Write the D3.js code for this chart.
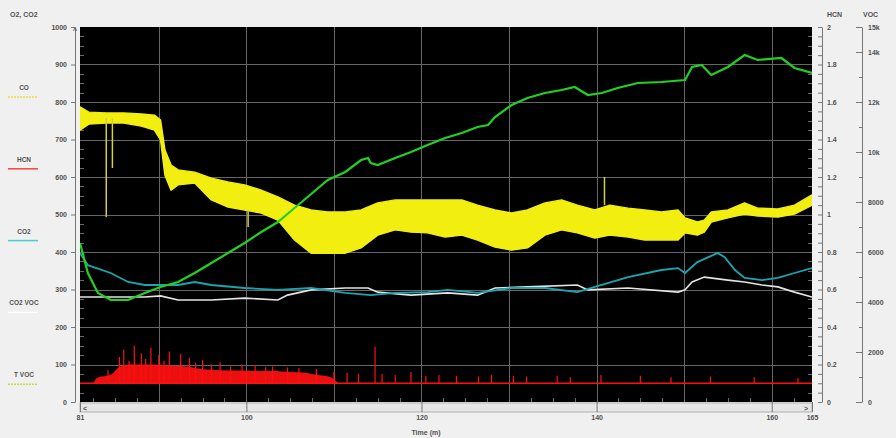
<!DOCTYPE html>
<html>
<head>
<meta charset="utf-8">
<script src="https://cdn.jsdelivr.net/npm/d3@7"></script>
<style>
html, body { margin: 0; padding: 0; background: #f0f0f0; }
svg { display: block; font-family: "Liberation Sans", Arial, sans-serif; }
</style>
</head>
<body>
<svg id="chart" width="896" height="438"></svg>
<script>
// tick labels
const timeTicks = [81, 100, 120, 140, 160, 164.6];
const leftTicks = [0, 100, 200, 300, 400, 500, 600, 700, 800, 900, 1000];
const hcnTicks = [0, 0.2, 0.4, 0.6, 0.8, 1, 1.2, 1.4, 1.6, 1.8, 2];
const vocTicks = [0, 2000, 4000, 6000, 8000, 10000, 12000, 14000, 15000];

// T VOC (green, right VOC axis)
const tvocTime = [81, 81.9, 83.05, 84.5, 86.5, 88.4, 90.2, 92.2, 94.1, 96.0, 97.9, 99.8, 101.7, 103.6, 105.5, 107.4, 109.3, 111.3, 113.1, 113.9, 114.2, 115.0, 117.0, 118.8, 120.7, 122.7, 124.6, 126.4, 127.6, 128.4, 130.3, 132.1, 134.1, 136.0, 137.5, 139.0, 140.6, 142.4, 144.7, 147.4, 150.1, 150.9, 152.0, 153.1, 155.0, 156.9, 158.4, 161.1, 162.6, 164.6];
const tvocValues = [6360, 5160, 4360, 4080, 4080, 4360, 4600, 4800, 5160, 5560, 5960, 6360, 6800, 7200, 7760, 8320, 8880, 9200, 9680, 9760, 9560, 9480, 9760, 10000, 10280, 10560, 10760, 11000, 11080, 11400, 11880, 12160, 12360, 12480, 12600, 12280, 12360, 12560, 12760, 12800, 12880, 13400, 13480, 13080, 13400, 13880, 13680, 13760, 13360, 13160];

// CO (yellow, left axis) - noisy trace kept as low / high envelope
const coTime = [81, 82, 84, 86, 88, 89.5, 90.2, 90.7, 91.4, 92.2, 94.1, 96.0, 97.9, 99.8, 101.7, 103.6, 105.5, 107.4, 109.3, 111.3, 113.1, 115.0, 117.0, 118.8, 120.7, 122.7, 124.6, 126.4, 128.4, 130.3, 132.1, 134.1, 136.0, 137.8, 139.8, 141.5, 143.6, 145.5, 147.4, 149.3, 150.1, 151.5, 152.3, 153.1, 155.0, 156.9, 158.4, 160.7, 162.6, 164.6];
const coHigh = [787, 773, 771, 771, 768, 765, 752, 672, 632, 619, 613, 597, 587, 579, 565, 547, 525, 512, 507, 507, 512, 531, 539, 539, 539, 539, 539, 525, 512, 504, 512, 531, 539, 525, 512, 525, 517, 512, 507, 512, 491, 480, 485, 507, 512, 531, 517, 515, 525, 552];
const coLow = [725, 741, 744, 744, 736, 725, 699, 605, 565, 579, 584, 539, 520, 512, 504, 485, 432, 397, 397, 397, 411, 445, 459, 453, 451, 440, 445, 432, 413, 405, 411, 445, 459, 451, 437, 445, 440, 432, 432, 432, 451, 445, 453, 480, 491, 501, 496, 493, 501, 525];
const coSpikeTime = [84.0, 84.7, 100.2, 140.9];
const coSpikeFrom = [757, 757, 512, 525];
const coSpikeTo = [493, 624, 467, 600];

// CO2 (cyan, left axis)
const co2Time = [81, 81.9, 84.5, 86.5, 88.4, 92.2, 94.1, 96.0, 99.8, 103.6, 107.4, 111.3, 114.2, 117.0, 120.7, 123.0, 126.4, 130.3, 134.1, 137.8, 139.8, 143.6, 147.4, 149.3, 150.1, 151.5, 153.8, 154.6, 155.8, 156.9, 158.9, 160.7, 162.6, 164.6];
const co2Values = [397, 365, 344, 320, 312, 312, 320, 312, 304, 299, 304, 291, 285, 291, 293, 299, 291, 304, 304, 293, 307, 333, 352, 357, 344, 373, 397, 387, 352, 331, 325, 331, 344, 357];

// CO2 VOC (white, left axis)
const co2vocTime = [81, 84.5, 88.4, 90.2, 92.2, 96.0, 99.8, 103.6, 104.7, 107.4, 111.3, 113.9, 115.0, 118.8, 123.0, 126.4, 128.4, 132.1, 137.8, 139.0, 143.6, 149.3, 150.1, 150.9, 152.3, 155.0, 156.9, 158.9, 160.7, 162.6, 164.6];
const co2vocValues = [280, 280, 280, 283, 272, 272, 277, 272, 285, 299, 304, 304, 293, 285, 291, 285, 304, 307, 312, 299, 304, 293, 299, 320, 333, 325, 320, 312, 307, 293, 280];

// HCN (red, right HCN axis): baseline, dense band top, single spikes
const hcnBase = 0.10;
const hcnBandTime = [82.5, 83, 84.5, 85.6, 87, 89, 91, 93.2, 95, 97, 99, 101, 103, 105, 106.5, 108, 109.5, 110.5];
const hcnBandTop = [0.10, 0.13, 0.145, 0.19, 0.2, 0.2, 0.195, 0.19, 0.175, 0.17, 0.168, 0.165, 0.165, 0.16, 0.158, 0.145, 0.135, 0.10];
const hcnSpikeTime = [84.2, 85.5, 86.0, 86.6, 87.2, 88.0, 88.5, 89.1, 90.0, 90.6, 91.2, 92.5, 93.5, 94.2, 95.0, 96.0, 97.0, 98.2, 99.5, 101.0, 102.2, 103.0, 104.7, 106.0, 108.0, 110.0, 111.5, 112.8, 114.7, 115.5, 117.0, 118.8, 120.5, 122.0, 124.0, 126.5, 128.0, 130.5, 132.0, 135.5, 137.0, 140.5, 145.0, 148.5, 153.0, 158.0, 163.0];
const hcnSpikeValues = [0.17, 0.24, 0.28, 0.22, 0.30, 0.26, 0.23, 0.29, 0.25, 0.22, 0.27, 0.256, 0.236, 0.21, 0.224, 0.2, 0.212, 0.19, 0.2, 0.196, 0.185, 0.19, 0.184, 0.18, 0.176, 0.16, 0.156, 0.15, 0.295, 0.15, 0.144, 0.16, 0.14, 0.144, 0.14, 0.136, 0.144, 0.14, 0.136, 0.14, 0.132, 0.144, 0.14, 0.132, 0.136, 0.132, 0.128];

const legendNames = ["CO", "HCN", "CO2", "CO2 VOC", "T VOC"];
const legendColors = ["#e8e040", "#ff4040", "#40d0d0", "#ffffff", "#c8d840"];

const svg = d3.select("#chart");
const plot = { left: 80, right: 812, top: 27, bottom: 402 };

const x = d3.scaleLinear().domain([81, 164.6]).range([plot.left, plot.right]);
const yLeft = d3.scaleLinear().domain([0, 1000]).range([plot.bottom, plot.top]);
const yHcn = d3.scaleLinear().domain([0, 2]).range([plot.bottom, plot.top]);
const yVoc = d3.scaleLinear().domain([0, 15000]).range([plot.bottom, plot.top]);

// plot background
svg.append("rect")
    .attr("x", plot.left).attr("y", plot.top)
    .attr("width", plot.right - plot.left).attr("height", plot.bottom - plot.top)
    .attr("fill", "#000");

// grid
const grid = svg.append("g").attr("stroke", "#8a8a8a").attr("stroke-width", 1).attr("opacity", 0.75);
grid.selectAll("line.h").data(leftTicks.slice(1, -1)).enter().append("line")
    .attr("x1", plot.left).attr("x2", plot.right)
    .attr("y1", d => Math.round(yLeft(d)) + 0.5).attr("y2", d => Math.round(yLeft(d)) + 0.5);
grid.selectAll("line.v").data(d3.range(90, 165, 10)).enter().append("line")
    .attr("y1", plot.top).attr("y2", plot.bottom)
    .attr("x1", d => Math.round(x(d)) + 0.5).attr("x2", d => Math.round(x(d)) + 0.5);

// small ticks inside the plot edges
const inner = svg.append("g").attr("stroke", "#666").attr("stroke-width", 1);
inner.selectAll("line.l").data(d3.range(25, 1000, 25)).enter().append("line")
    .attr("x1", plot.left).attr("x2", plot.left + 4)
    .attr("y1", d => Math.round(yLeft(d)) + 0.5).attr("y2", d => Math.round(yLeft(d)) + 0.5);
inner.selectAll("line.r").data(d3.range(25, 1000, 25)).enter().append("line")
    .attr("x1", plot.right - 4).attr("x2", plot.right)
    .attr("y1", d => Math.round(yLeft(d)) + 0.5).attr("y2", d => Math.round(yLeft(d)) + 0.5);
inner.selectAll("line.b").data(d3.range(82.5, 164, 2.5)).enter().append("line")
    .attr("y1", plot.bottom - 4).attr("y2", plot.bottom)
    .attr("x1", d => Math.round(x(d)) + 0.5).attr("x2", d => Math.round(x(d)) + 0.5);

// clip
svg.append("clipPath").attr("id", "clip").append("rect")
    .attr("x", plot.left).attr("y", plot.top)
    .attr("width", plot.right - plot.left).attr("height", plot.bottom - plot.top);
const g = svg.append("g").attr("clip-path", "url(#clip)");

// HCN (red)
g.append("line")
    .attr("x1", plot.left).attr("x2", plot.right)
    .attr("y1", yHcn(hcnBase)).attr("y2", yHcn(hcnBase))
    .attr("stroke", "#ff1010").attr("stroke-width", 1.5);
g.append("path")
    .datum(hcnBandTime.map((t, i) => [t, hcnBandTop[i]]))
    .attr("fill", "#ff1010").attr("opacity", 0.92)
    .attr("d", d3.area().curve(d3.curveMonotoneX).x(d => x(d[0])).y0(yHcn(hcnBase)).y1(d => yHcn(d[1])));
g.selectAll("line.hcn").data(hcnSpikeTime.map((t, i) => [t, hcnSpikeValues[i]])).enter().append("line")
    .attr("x1", d => x(d[0])).attr("x2", d => x(d[0]))
    .attr("y1", yHcn(hcnBase)).attr("y2", d => yHcn(d[1]))
    .attr("stroke", "#ff1010").attr("stroke-width", 1.2);

const lineLeft = d3.line().x(d => x(d[0])).y(d => yLeft(d[1]));

// CO2 VOC (white)
g.append("path")
    .datum(co2vocTime.map((t, i) => [t, co2vocValues[i]]))
    .attr("fill", "none").attr("stroke", "#e4e4e4").attr("stroke-width", 1.6)
    .attr("d", lineLeft);

// CO2 (cyan)
g.append("path")
    .datum(co2Time.map((t, i) => [t, co2Values[i]]))
    .attr("fill", "none").attr("stroke", "#1aa6b0").attr("stroke-width", 1.8)
    .attr("d", lineLeft);

// CO (yellow)
const coData = coTime.map((t, i) => [t, coLow[i], coHigh[i]]);
g.append("path")
    .datum(coData)
    .attr("fill", "#f2ee10").attr("stroke", "#f2ee10").attr("stroke-width", 1.5)
    .attr("stroke-linejoin", "round")
    .attr("d", d3.area().x(d => x(d[0])).y0(d => yLeft(d[1])).y1(d => yLeft(d[2])));
g.selectAll("line.co").data(coSpikeTime.map((t, i) => [t, coSpikeFrom[i], coSpikeTo[i]])).enter().append("line")
    .attr("x1", d => x(d[0])).attr("x2", d => x(d[0]))
    .attr("y1", d => yLeft(d[1])).attr("y2", d => yLeft(d[2]))
    .attr("stroke", "#d8d030").attr("stroke-width", 1.5);

// T VOC (green)
g.append("path")
    .datum(tvocTime.map((t, i) => [t, tvocValues[i]]))
    .attr("fill", "none").attr("stroke", "#22d022").attr("stroke-width", 2.2)
    .attr("d", d3.line().x(d => x(d[0])).y(d => yVoc(d[1])));

// axes
const textColor = "#505050";
function styleAxis(sel) {
    sel.selectAll("path.domain").attr("stroke", "#777");
    sel.selectAll(".tick line").attr("stroke", "#777");
    sel.selectAll(".tick text").attr("fill", textColor).attr("font-size", "7px").attr("font-weight", "bold");
}

svg.append("g")
    .attr("transform", "translate(75,0)")
    .call(d3.axisLeft(yLeft).tickValues(leftTicks).tickSize(4).tickSizeOuter(0).tickPadding(4).tickFormat(d3.format("d")))
    .call(styleAxis);

svg.append("g")
    .attr("transform", "translate(822,0)")
    .call(d3.axisLeft(yHcn).tickValues(d3.range(0, 2.001, 0.05)).tickSize(4).tickSizeOuter(0).tickFormat(""))
    .call(styleAxis);
svg.append("g")
    .attr("transform", "translate(822,0)")
    .call(d3.axisRight(yHcn).tickValues(hcnTicks).tickSize(0).tickSizeOuter(0).tickPadding(5).tickFormat(d3.format("~g")))
    .call(styleAxis)
    .call(a => a.select("path.domain").remove());

svg.append("g")
    .attr("transform", "translate(862,0)")
    .call(d3.axisLeft(yVoc).tickValues(d3.range(0, 15001, 1000)).tickSize(3).tickSizeOuter(0).tickFormat(""))
    .call(styleAxis);
svg.append("g")
    .attr("transform", "translate(862,0)")
    .call(d3.axisLeft(yVoc).tickValues(vocTicks).tickSize(6).tickSizeOuter(0).tickFormat(""))
    .call(styleAxis)
    .call(a => a.select("path.domain").remove());
svg.append("g")
    .attr("transform", "translate(862,0)")
    .call(d3.axisRight(yVoc).tickValues(vocTicks).tickSize(0).tickPadding(6)
        .tickFormat(d => d >= 10000 ? (d / 1000) + "k" : d))
    .call(styleAxis)
    .call(a => a.select("path.domain").remove());

// bottom scroll strip and time axis
svg.append("rect")
    .attr("x", plot.left).attr("y", plot.bottom + 1)
    .attr("width", plot.right - plot.left).attr("height", 9)
    .attr("fill", "#e6e6e6").attr("stroke", "#b0b0b0");
svg.append("g")
    .attr("transform", "translate(0," + plot.bottom + ")")
    .call(d3.axisBottom(x).tickValues(timeTicks).tickSize(10).tickSizeOuter(0).tickPadding(3).tickFormat(d3.format(".0f")))
    .call(styleAxis)
    .call(a => a.select("path.domain").remove());

// header and axis titles
const label = (tx, ty, str, anchor) => svg.append("text")
    .attr("x", tx).attr("y", ty).attr("text-anchor", anchor || "start")
    .attr("fill", textColor).attr("font-size", "7px").attr("font-weight", "bold").text(str);
label(10, 17, "O2, CO2");
label(827, 17, "HCN");
label(863, 17, "VOC");
label(426, 435, "Time (m)", "middle");
label(75, 33, "^", "middle");
label(85, 411, "<", "middle");
label(806, 411, ">", "middle");

// legend at the left
const legend = svg.append("g").selectAll("g")
    .data(legendNames).enter().append("g")
    .attr("transform", (d, i) => "translate(0," + (90 + i * 71.8) + ")");
legend.append("text")
    .attr("x", 24).attr("y", 0).attr("text-anchor", "middle")
    .attr("fill", textColor).attr("font-size", "6.5px").attr("font-weight", "bold")
    .text(d => d);
legend.append("line")
    .attr("x1", 8).attr("x2", 38).attr("y1", 7).attr("y2", 7)
    .attr("stroke", (d, i) => legendColors[i]).attr("stroke-width", 1.5)
    .attr("stroke-dasharray", (d, i) => i === 0 || i === 4 ? "2,1" : null);
</script>
</body>
</html>
